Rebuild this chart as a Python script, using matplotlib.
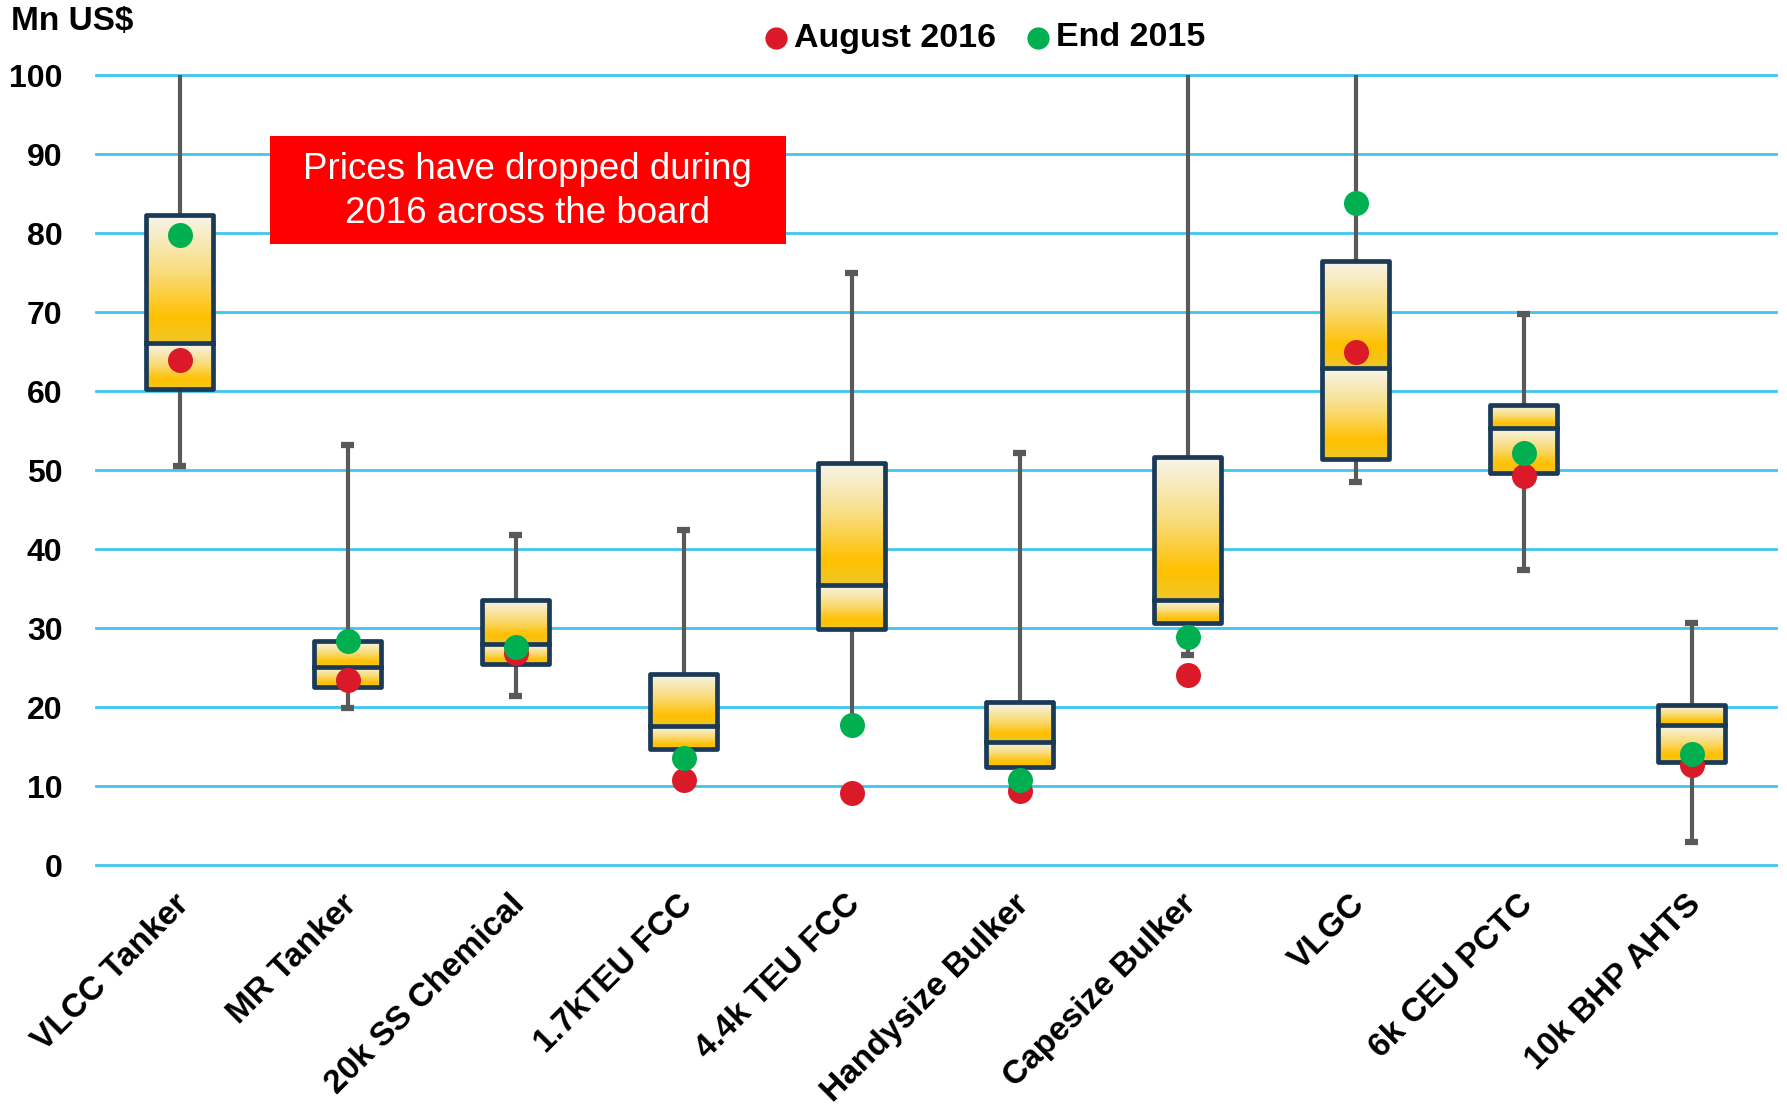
import numpy as np
import matplotlib
matplotlib.use("Agg")
import matplotlib.pyplot as plt
from matplotlib.colors import LinearSegmentedColormap
from matplotlib.patches import Rectangle

categories = ["VLCC Tanker", "MR Tanker", "20k SS Chemical", "1.7kTEU FCC", "4.4k TEU FCC",
              "Handysize Bulker", "Capesize Bulker", "VLGC", "6k CEU PCTC", "10k BHP AHTS"]
whisker_high = [100, 53.2, 41.8, 42.4, 74.9, 52.1, 100, 100, 69.8, 30.6]
box_top = [82.3, 28.3, 33.6, 24.2, 50.9, 20.6, 51.7, 76.5, 58.2, 20.2]
median = [66.1, 25.1, 28.0, 17.6, 35.5, 15.6, 33.6, 62.9, 55.3, 17.7]
box_bottom = [60.3, 22.5, 25.5, 14.7, 29.9, 12.4, 30.7, 51.4, 49.6, 13.1]
whisker_low = [50.5, 19.9, 21.4, 14.7, 18.5, 12.4, 26.6, 48.5, 37.4, 2.9]
aug_2016 = [63.9, 23.4, 26.8, 10.8, 9.1, 9.4, 24.1, 64.9, 49.2, 12.7]
end_2015 = [79.8, 28.3, 27.6, 13.6, 17.7, 10.8, 28.9, 83.8, 52.2, 14.1]
yticks = [0, 10, 20, 30, 40, 50, 60, 70, 80, 90, 100]

plt.rcParams['font.family'] = ['Liberation Sans', 'DejaVu Sans']

fig = plt.figure(figsize=(17.87, 11.10), dpi=100)
ax = fig.add_axes([0.0536, 0.2207, 0.94, 0.7116])

grid_c = "#3EC6EE"
for t in yticks:
    ax.axhline(t, color=grid_c, lw=2.0, zorder=1, clip_on=False)

cmap = LinearSegmentedColormap.from_list("g", [(0, "#F7F5EC"), (0.45, "#F9DC7A"),
                                                (0.8, "#FFC000"), (1.0, "#EFC72A")])
grad = np.linspace(0, 1, 256).reshape(-1, 1)
navy = "#1B3A57"
wcol = "#595959"
bw = 0.40
cw = 0.08
ytop = 100
for i in range(len(categories)):
    ax.plot([i, i], [box_top[i], whisker_high[i]], color=wcol, lw=3.0, zorder=2, solid_capstyle='butt')
    if whisker_high[i] < ytop:
        ax.plot([i - cw / 2, i + cw / 2], [whisker_high[i]] * 2, color=wcol, lw=4.5, zorder=2, solid_capstyle='butt')
    if whisker_low[i] < box_bottom[i]:
        ax.plot([i, i], [box_bottom[i], whisker_low[i]], color=wcol, lw=3.0, zorder=2, solid_capstyle='butt')
        ax.plot([i - cw / 2, i + cw / 2], [whisker_low[i]] * 2, color=wcol, lw=4.5, zorder=2, solid_capstyle='butt')
    for lo, hi in [(median[i], box_top[i]), (box_bottom[i], median[i])]:
        ax.imshow(grad, cmap=cmap, extent=[i - bw / 2, i + bw / 2, lo, hi], aspect='auto',
                  origin='upper', zorder=3, interpolation='bilinear')
    ax.add_patch(Rectangle((i - bw / 2, box_bottom[i]), bw, box_top[i] - box_bottom[i], fill=False,
                           ec=navy, lw=3.4, zorder=4, joinstyle='round'))
    ax.plot([i - bw / 2, i + bw / 2], [median[i]] * 2, color=navy, lw=3.4, zorder=4)

x = np.arange(len(categories))
ax.plot(x, aug_2016, 'o', color="#DA1A28", ms=18, mew=0, zorder=5)
ax.plot(x, end_2015, 'o', color="#00B050", ms=18, mew=0, zorder=6)

ax.set_xlim(-0.5, len(categories) - 0.5)
ax.set_ylim(0, 100)
ax.set_yticks(yticks)
ax.set_yticklabels([str(t) for t in yticks], fontsize=23, fontweight='bold')
ax.tick_params(axis='y', length=0, pad=24)
ax.set_xticks([])
for s in ax.spines.values():
    s.set_visible(False)

for i, c in enumerate(categories):
    ax.text(i - 0.04, -0.030, c, transform=ax.get_xaxis_transform(), rotation=45,
            rotation_mode='anchor', ha='right', va='top', fontsize=24, fontweight='bold')

ax.add_patch(Rectangle((0.537, 78.6), 3.07, 13.75, facecolor="#FF0000", edgecolor='none', zorder=7))
ax.text(0.537 + 3.07 / 2, 78.6 + 13.75 / 2 - 0.2, "Prices have dropped during\n2016 across the board",
        ha='center', va='center', color='white', fontsize=26.5, zorder=8, linespacing=1.35)

fig.text(0.006, 0.981, "Mn US$", fontsize=24, fontweight='bold', ha='left', va='center')

ly = 1 - 38 / 1110
fig.lines.append(plt.Line2D([776 / 1787], [ly], marker='o', color="#DA1A28", ms=16, mew=0,
                            transform=fig.transFigure))
fig.text(794 / 1787, ly, "August 2016", fontsize=24.5, fontweight='bold', ha='left', va='center')
fig.lines.append(plt.Line2D([1038 / 1787], [ly], marker='o', color="#00B050", ms=16, mew=0,
                            transform=fig.transFigure))
fig.text(1056 / 1787, ly, "End 2015", fontsize=24.5, fontweight='bold', ha='left', va='center')

fig.savefig("out.png", dpi=100)
